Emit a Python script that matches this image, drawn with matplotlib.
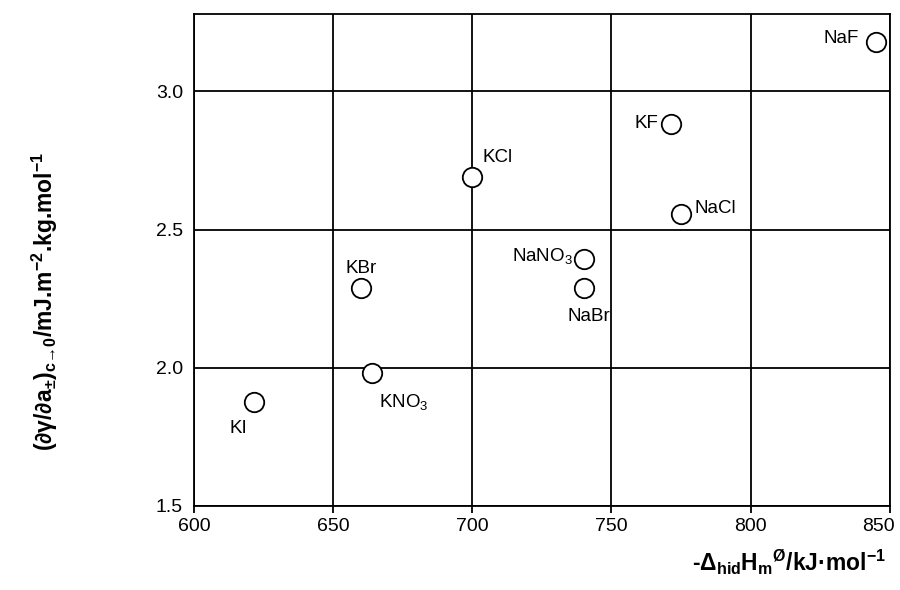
import matplotlib
matplotlib.use("Agg")
import matplotlib.pyplot as plt
import matplotlib.transforms as mtransforms

plt.rcParams['font.family'] = ['Liberation Sans', 'DejaVu Sans']

# salts, hydration enthalpy (x) and slope values (y)
salts = ["KI", "KBr", "KNO$_\\mathregular{3}$", "KCl", "NaNO$_\\mathregular{3}$",
         "NaBr", "KF", "NaCl", "NaF"]
dh = [621.5, 660, 664, 700, 740, 740, 771.5, 775, 845]
slope = [1.875, 2.29, 1.98, 2.69, 2.395, 2.29, 2.88, 2.555, 3.18]

# label offsets in points (dx, dy) and alignment
offsets = [(-5, -19, 'right'), (0, 14, 'center'), (5, -21, 'left'),
           (7, 14, 'left'), (-8, 1, 'right'), (4, -21, 'center'),
           (-9, 1, 'right'), (10, 4, 'left'), (-12, 2, 'right')]

xticks = [600, 650, 700, 750, 800, 850]
yticks = [1.5, 2.0, 2.5, 3.0]

fig = plt.figure(figsize=(9, 5.9), dpi=100)
ax = fig.add_axes([0.2156, 0.1424, 0.773, 0.834])

ax.plot(dh, slope, 'o', ms=14, mfc='white', mec='black', mew=1.3,
        zorder=3, clip_on=False)

for name, x, y, (dx, dy, ha) in zip(salts, dh, slope, offsets):
    ax.annotate(name, (x, y), xytext=(dx, dy), textcoords='offset points',
                ha=ha, va='center', fontsize=13.5)

ax.set_xlim(600, 850)
ax.set_ylim(1.5, 3.28)
ax.set_xticks(xticks)
ax.set_yticks(yticks)
ax.set_yticklabels([f"{v:.1f}" for v in yticks])
ax.grid(True, color='black', linewidth=1.3)
ax.set_axisbelow(True)
ax.tick_params(axis='x', length=5, width=1.3, labelsize=14, pad=4)
ax.tick_params(axis='y', length=0, labelsize=14, pad=8)
for s in ax.spines.values():
    s.set_linewidth(1.3)

# last x tick label sits a bit to the left in the original
lab = ax.get_xticklabels()[-1]
lab.set_transform(lab.get_transform() + mtransforms.ScaledTranslation(-0.11, 0, fig.dpi_scale_trans))

fig.text(0.05, 0.49,
         '(∂γ/∂a$_\\mathregular{±}$)$_\\mathregular{c→0}$/mJ.m$^\\mathregular{-2}$.kg.mol$^\\mathregular{-1}$',
         rotation=90, ha='center', va='center', fontsize=16.5, fontweight='bold')
fig.text(0.877, 0.022,
         '-Δ$_\\mathregular{hid}$H$_\\mathregular{m}$$^\\mathregular{Ø}$/kJ·mol$^\\mathregular{-1}$',
         ha='center', va='bottom', fontsize=16.5, fontweight='bold')

fig.savefig('out.png', dpi=100)
